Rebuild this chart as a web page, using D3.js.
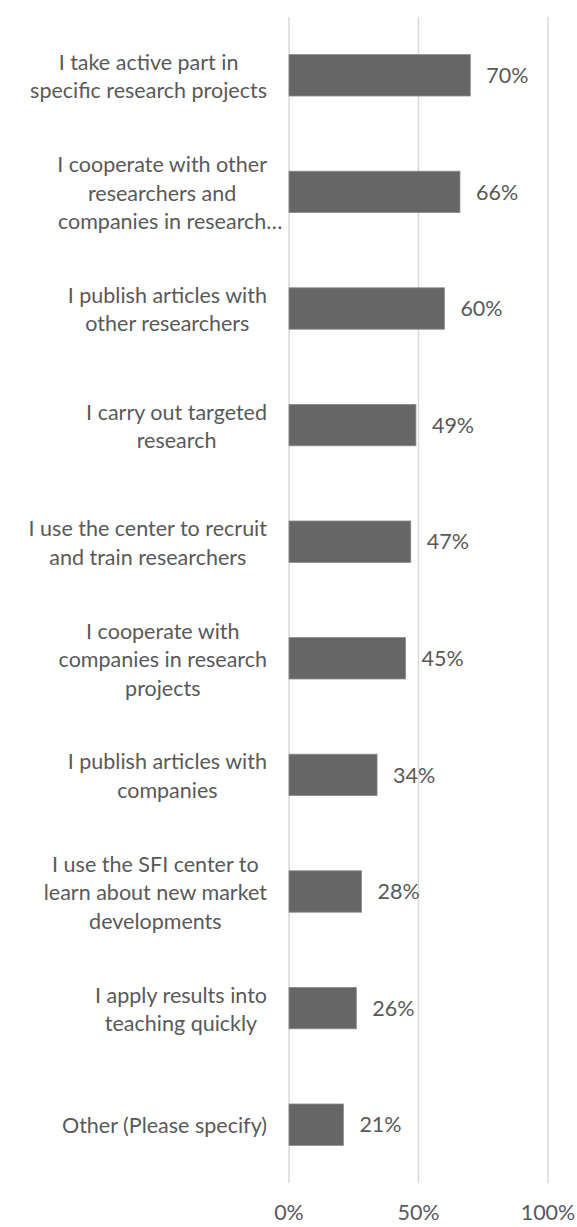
<!DOCTYPE html>
<html>
<head>
<meta charset="utf-8">
<script src="https://cdn.jsdelivr.net/npm/d3@7"></script>
<style>
  html, body { margin: 0; padding: 0; background: #ffffff; }
  svg { display: block; }
  text { font-family: Lato, "Open Sans", sans-serif; fill: #595959; }
</style>
</head>
<body>
<svg id="chart" width="577" height="1227"></svg>
<script>
// Category labels, already split into the lines they wrap to
const categories = [
  ["I take active part in", "specific research projects"],
  ["I cooperate with other", "researchers and", "companies in research\u2026"],
  ["I publish articles with", "other researchers"],
  ["I carry out targeted", "research"],
  ["I use the center to recruit", "and train researchers"],
  ["I cooperate with", "companies in research", "projects"],
  ["I publish articles with", "companies"],
  ["I use the SFI center to", "learn about new market", "developments"],
  ["I apply results into", "teaching quickly"],
  ["Other (Please specify)"]
];
const values = [70, 66, 60, 49, 47, 45, 34, 28, 26, 21];
const xTicks = [0, 50, 100];

const plot = { left: 289, right: 548, top: 17, bottom: 1183 };
const fontSize = 21.5;
const lineHeight = 28.5;

const svg = d3.select("#chart");

const x = d3.scaleLinear().domain([0, 100]).range([plot.left, plot.right]);
const y = d3.scaleBand()
  .domain(d3.range(values.length))
  .range([plot.top, plot.bottom])
  .paddingInner(0.645)
  .paddingOuter(0.3225);

// vertical gridlines
svg.append("g")
  .selectAll("line")
  .data(xTicks)
  .join("line")
  .attr("x1", d => x(d)).attr("x2", d => x(d))
  .attr("y1", plot.top).attr("y2", plot.bottom)
  .attr("stroke", "#d9d9d9")
  .attr("stroke-width", 1.5);

// bars
svg.append("g")
  .selectAll("rect")
  .data(values)
  .join("rect")
  .attr("x", x(0))
  .attr("y", (d, i) => y(i))
  .attr("width", d => x(d) - x(0))
  .attr("height", y.bandwidth())
  .attr("fill", "#666666")
  .attr("stroke", "#8a8a8a")
  .attr("stroke-width", 0.8);

// value labels
svg.append("g")
  .selectAll("text")
  .data(values)
  .join("text")
  .attr("x", d => x(d) + 16)
  .attr("y", (d, i) => y(i) + y.bandwidth() / 2)
  .attr("dy", "0.36em")
  .attr("font-size", fontSize)
  .text(d => d + "%");

// x axis tick labels
svg.append("g")
  .selectAll("text")
  .data(xTicks)
  .join("text")
  .attr("x", d => x(d))
  .attr("y", 1220)
  .attr("text-anchor", "middle")
  .attr("font-size", fontSize)
  .text(d => d + "%");

// category labels: each block is right-aligned at labelRight,
// lines centred inside the block (a trailing ellipsis overhangs)
const labelRight = 267;
const measure = svg.append("text").attr("font-size", fontSize).attr("visibility", "hidden");
function textWidth(s) {
  measure.text(s);
  return measure.node().getComputedTextLength();
}
const catG = svg.append("g");
categories.forEach((lines, i) => {
  const core = lines.map(s => s.replace(/\u2026$/, ""));
  const widths = core.map(textWidth);
  const blockW = d3.max(widths);
  const cx = labelRight - blockW / 2;
  const cy = y(i) + y.bandwidth() / 2 + 1;
  const n = lines.length;
  lines.forEach((line, j) => {
    catG.append("text")
      .attr("x", cx - widths[j] / 2)
      .attr("y", cy + (j - (n - 1) / 2) * lineHeight)
      .attr("dy", "0.36em")
      .attr("font-size", fontSize)
      .text(line);
  });
});
measure.remove();
</script>
</body>
</html>
